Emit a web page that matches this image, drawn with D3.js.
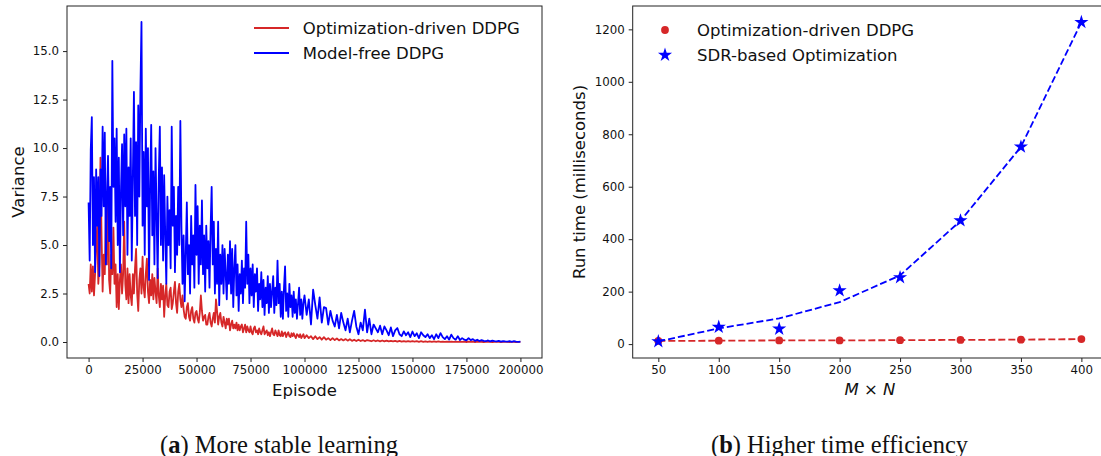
<!DOCTYPE html>
<html><head><meta charset="utf-8">
<script src="https://cdn.jsdelivr.net/npm/d3@7"></script>
<style>
html,body{margin:0;padding:0;background:#fff;}
svg{display:block;}
text{font-family:"DejaVu Sans",sans-serif;fill:#111;}
text.cap{font-family:"Liberation Serif","Times New Roman",serif;}
</style></head>
<body>
<svg id="chart" width="1101" height="456"></svg>
<script>
// ---------- data: (a) variance vs episode ----------
// episode grid: every 500 episodes up to 100000, then every 1000 episodes
const episodes = d3.range(0, 100001, 500).concat(d3.range(101000, 200001, 1000));
const optDrivenVariance = [
 3.0,2.5,4.0,2.6,3.9,2.4,3.5,5.0,6.0,3.0,
 4.0,9.5,5.5,2.6,4.5,3.5,6.5,4.0,9.1,3.2,
 2.5,4.5,3.5,5.9,3.0,4.0,1.8,3.5,1.7,3.2,
 4.0,2.5,3.5,6.2,3.0,2.2,3.8,2.0,3.5,2.4,
 1.9,3.5,2.5,3.8,4.8,2.5,1.6,3.2,3.8,2.5,
 4.4,2.8,2.3,3.5,4.3,2.6,2.0,3.2,2.4,3.5,
 2.2,3.3,2.6,2.0,3.8,2.4,1.8,3.0,2.2,2.9,
 1.3,2.4,3.0,1.9,1.8,2.6,2.8,1.7,2.0,2.6,
 3.1,2.0,1.5,2.6,3.0,2.2,1.8,2.4,1.7,1.3,
 1.2,1.8,2.0,1.3,1.1,1.6,1.8,1.2,1.0,1.5,
 1.6,1.2,1.0,1.5,2.4,1.6,1.1,1.3,1.4,0.9,
 0.9,1.3,1.5,1.0,0.8,1.2,1.5,1.0,2.2,1.6,
 0.9,1.3,1.5,1.0,0.8,1.3,1.0,0.7,1.2,0.9,
 1.2,0.6,0.9,1.1,0.7,0.9,0.7,1.0,0.6,0.9,
 0.6,0.8,0.9,0.5,0.7,0.9,0.5,0.8,0.6,0.5,
 0.8,0.5,0.4,0.7,0.8,0.5,0.6,0.4,0.7,0.5,
 0.4,0.6,0.8,0.4,0.5,0.6,0.35,0.5,0.3,0.5,
 0.7,0.4,0.35,0.6,0.45,0.3,0.6,0.35,0.3,0.55,
 0.3,0.45,0.5,0.25,0.4,0.5,0.3,0.25,0.45,0.3,
 0.45,0.3,0.2,0.4,0.35,0.25,0.4,0.2,0.3,0.4,
 0.2,
 0.35,0.2,0.3,0.15,0.3,0.15,0.25,0.12,0.25,0.12,
 0.2,0.1,0.2,0.1,0.18,0.08,0.15,0.08,0.15,0.07,
 0.14,0.06,0.12,0.05,0.12,0.05,0.1,0.04,0.1,0.07,
 0.04,0.09,0.04,0.08,0.03,0.08,0.03,0.07,0.03,0.06,
 0.03,0.06,0.02,0.06,0.02,0.05,0.02,0.05,0.02,0.04,
 0.02,0.04,0.01,0.04,0.01,0.03,0.01,0.03,0.01,0.03,
 0.01,0.03,0.01,0.02,0.01,0.02,0.01,0.02,0.01,0.02,
 0.01,0.02,0.01,0.02,0.0,0.02,0.01,0.02,0.0,0.02,
 0.01,0.01,0.0,0.01,0.01,0.01,0.0,0.01,0.01,0.01,
 0.0,0.01,0.01,0.01,0.0,0.01,0.01,0.0,0.01,0.01
];
const modelFreeVariance = [
 7.2,4.2,9.9,11.6,5.0,8.5,3.6,8.9,6.0,8.5,
 3.4,8.9,6.5,11.1,7.0,10.8,4.0,7.5,9.6,5.2,
 8.0,3.8,14.5,8.0,10.5,6.2,11.0,5.0,9.5,3.6,
 7.8,10.2,5.5,10.7,7.0,11.0,4.5,9.0,6.5,10.5,
 4.2,8.5,12.9,6.5,10.3,5.0,12.2,7.5,13.0,16.5,
 6.0,9.8,4.5,11.0,7.0,10.0,3.2,8.0,11.2,5.5,
 8.8,4.0,10.0,6.5,3.3,8.5,11.1,5.0,9.0,4.2,
 8.6,5.5,3.0,7.5,5.0,6.8,3.8,11.1,6.0,8.0,
 3.6,6.5,4.5,8.0,5.0,11.4,6.0,3.0,5.5,2.1,
 4.5,7.2,3.5,5.0,2.5,6.5,4.0,5.5,2.8,8.1,
 4.5,7.0,3.0,6.0,4.0,7.3,3.5,5.5,2.6,6.0,
 3.8,5.2,2.8,5.8,8.0,4.0,6.2,2.5,4.8,3.0,
 6.2,1.9,4.5,3.0,5.0,2.5,4.8,3.5,2.2,4.5,
 3.0,5.2,2.5,4.8,1.8,3.8,5.0,2.4,4.0,1.6,
 3.5,2.5,4.2,2.0,3.8,2.8,6.2,3.0,4.5,2.0,
 3.8,2.4,4.0,1.8,3.5,2.6,3.8,1.6,3.0,2.2,
 3.6,1.8,3.2,1.4,2.8,2.0,3.4,1.5,3.0,1.8,
 2.6,3.4,1.5,2.8,1.9,4.2,2.0,3.0,1.3,2.6,
 1.2,2.8,3.9,1.6,2.5,1.3,3.0,1.8,2.4,1.3,
 2.6,1.5,2.2,1.2,2.0,2.8,1.4,2.2,1.2,2.0,
 2.4,
 1.4,2.2,0.9,2.7,1.9,1.2,2.3,1.0,1.8,1.75,
 0.9,1.6,1.1,0.8,1.4,0.7,1.5,1.0,0.6,1.2,
 0.5,1.1,1.6,0.8,0.4,1.0,0.6,1.67,0.5,1.2,
 0.4,0.9,0.7,0.5,0.84,0.4,0.8,0.6,0.35,0.75,
 0.3,0.6,0.72,0.4,0.3,0.55,0.35,0.5,0.25,0.54,
 0.3,0.45,0.2,0.5,0.35,0.25,0.4,0.2,0.35,0.15,
 0.4,0.2,0.46,0.25,0.15,0.3,0.12,0.38,0.2,0.12,
 0.3,0.1,0.2,0.12,0.08,0.2,0.1,0.15,0.06,0.12,
 0.05,0.1,0.06,0.04,0.08,0.03,0.07,0.04,0.03,0.06,
 0.02,0.05,0.03,0.02,0.04,0.01,0.04,0.02,0.01,0.02
];
const leftXTicks = [0,25000,50000,75000,100000,125000,150000,175000,200000];
const leftYTicks = [0,2.5,5,7.5,10,12.5,15];
const leftLegend = ["Optimization-driven DDPG","Model-free DDPG"];

// ---------- data: (b) run time vs M x N ----------
const sizesMN = [50,100,150,200,250,300,350,400];
const optDrivenRuntime = [12,13,14,14,15,16,17,19];
const sdrRuntimeMarkers = [10,65,58,204,254,471,752,1227];
const sdrRuntimeFit = [10,60,98,160,262,470,752,1227];
const rightXTicks = [50,100,150,200,250,300,350,400];
const rightYTicks = [0,200,400,600,800,1000,1200];
const rightLegend = ["Optimization-driven DDPG","SDR-based Optimization"];

const RED = "#d62728", BLUE = "#0000ff";
const svg = d3.select("#chart");

function frame(g, x0, x1, y0, y1){
  g.append("rect").attr("x",x0).attr("y",y0).attr("width",x1-x0).attr("height",y1-y0)
   .attr("fill","none").attr("stroke","#222").attr("stroke-width",1);
}
function axes(g, x, y, xt, yt, xfmt, yfmt){
  const ax = g.append("g").attr("transform",`translate(0,${y.range()[0]})`)
    .call(d3.axisBottom(x).tickValues(xt).tickFormat(xfmt).tickSize(4).tickPadding(4));
  const ay = g.append("g").attr("transform",`translate(${x.range()[0]},0)`)
    .call(d3.axisLeft(y).tickValues(yt).tickFormat(yfmt).tickSize(4).tickPadding(4));
  [ax,ay].forEach(a=>{
    a.select(".domain").remove();
    a.selectAll(".tick line").attr("stroke","#222");
    a.selectAll(".tick text").attr("font-size","11.8px").attr("fill","#111")
      .attr("font-family","DejaVu Sans");
  });
}

// ----- left panel -----
{
  const L=67,R=542,T=6,B=358;
  const x = d3.scaleLinear().domain([-10000,210000]).range([L,R]);
  const y = d3.scaleLinear().domain([-0.825,17.325]).range([B,T]);
  const g = svg.append("g");
  g.append("clipPath").attr("id","clipL").append("rect").attr("x",L).attr("y",T).attr("width",R-L).attr("height",B-T);
  const line = d3.line().x((d,i)=>x(episodes[i])).y(d=>y(d));
  g.append("path").datum(optDrivenVariance).attr("d",line).attr("fill","none")
   .attr("stroke",RED).attr("stroke-width",1.8).attr("stroke-linejoin","round").attr("clip-path","url(#clipL)");
  g.append("path").datum(modelFreeVariance).attr("d",line).attr("fill","none")
   .attr("stroke",BLUE).attr("stroke-width",1.8).attr("stroke-linejoin","round").attr("clip-path","url(#clipL)");
  frame(g,L,R,T,B);
  axes(g,x,y,leftXTicks,leftYTicks,d3.format("d"),d3.format(".1f"));
  g.append("text").attr("x",(L+R)/2).attr("y",396).attr("text-anchor","middle").attr("font-size","16.5px").text("Episode");
  g.append("text").attr("transform",`translate(24,${(T+B)/2}) rotate(-90)`).attr("text-anchor","middle").attr("font-size","16.5px").text("Variance");
  const cols=[RED,BLUE];
  leftLegend.forEach((t,i)=>{
    const yy = 28 + i*25;
    g.append("line").attr("x1",254).attr("x2",289).attr("y1",yy).attr("y2",yy).attr("stroke",cols[i]).attr("stroke-width",1.8);
    g.append("text").attr("x",302.7).attr("y",yy+6).attr("font-size","16.5px").text(t);
  });
}

// ----- right panel -----
{
  const L=632.7,R=1107,T=6,B=358;
  const x = d3.scaleLinear().domain([28.8,421.2]).range([L,R]);
  const y = d3.scaleLinear().domain([-53,1289]).range([B,T]);
  const g = svg.append("g");
  const lineR = d3.line().x((d,i)=>x(sizesMN[i])).y(d=>y(d));
  g.append("path").datum(optDrivenRuntime).attr("d",lineR).attr("fill","none")
   .attr("stroke",RED).attr("stroke-width",1.8).attr("stroke-dasharray","7,3");
  g.append("path").datum(sdrRuntimeFit).attr("d",lineR).attr("fill","none")
   .attr("stroke",BLUE).attr("stroke-width",1.8).attr("stroke-dasharray","7,3");
  g.selectAll("circle.o").data(optDrivenRuntime).join("circle")
   .attr("cx",(d,i)=>x(sizesMN[i])).attr("cy",d=>y(d)).attr("r",3.9).attr("fill",RED);
  const star = d3.symbol().type(d3.symbolStar).size(62);
  g.selectAll("path.s").data(sdrRuntimeMarkers).join("path")
   .attr("d",star).attr("transform",(d,i)=>`translate(${x(sizesMN[i])},${y(d)})`).attr("fill",BLUE);
  frame(g,L,R,T,B);
  axes(g,x,y,rightXTicks,rightYTicks,d3.format("d"),d3.format("d"));
  const xl = g.append("text").attr("x",870).attr("y",395).attr("text-anchor","middle").attr("font-size","16.5px");
  xl.append("tspan").attr("font-style","italic").text("M");
  xl.append("tspan").text(" × ");
  xl.append("tspan").attr("font-style","italic").text("N");
  g.append("text").attr("transform",`translate(585,${(T+B)/2}) rotate(-90)`).attr("text-anchor","middle").attr("font-size","16.5px").text("Run time (milliseconds)");
  g.append("circle").attr("cx",665).attr("cy",30).attr("r",3.9).attr("fill",RED);
  g.append("path").attr("d",star).attr("transform","translate(665,55)").attr("fill",BLUE);
  rightLegend.forEach((t,i)=>{
    g.append("text").attr("x",697).attr("y",30+i*25+6).attr("font-size","16.5px").text(t);
  });
}

// ----- captions -----
function caption(cx, label, rest, w){
  const t = svg.append("text").attr("class","cap").attr("x",cx-w/2).attr("y",453)
    .attr("font-size","25px").attr("textLength",w).attr("lengthAdjust","spacingAndGlyphs");
  t.append("tspan").text("(");
  t.append("tspan").attr("font-weight","bold").text(label);
  t.append("tspan").text(") " + rest);
}
caption(279,"a","More stable learning",238);
caption(839.5,"b","Higher time efficiency",257);
</script>
</body></html>
